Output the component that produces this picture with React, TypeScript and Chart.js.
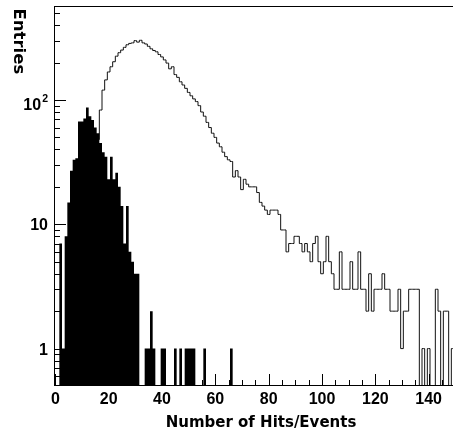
import React, { useEffect, useRef } from "react";
import { Chart, registerables } from "chart.js";

Chart.register(...registerables);

// Bin contents, one value per unit bin (bins centred on 0,1,2,...,149)
const allEventsCounts = [
  0, 0, 0, 0, 0, 0, 1, 2, 3, 5,
  8, 12, 17, 24, 31, 38, 48, 83, 120, 145,
  168, 185, 203, 225, 240, 252, 265, 278, 285, 288,
  300, 292, 302, 288, 282, 270, 258, 250, 244, 232,
  222, 210, 198, 178, 185, 160, 152, 140, 132, 124,
  115, 108, 102, 97, 90, 80, 74, 66, 60, 54,
  50, 45, 42, 38, 35, 33, 32, 24, 27, 24,
  19, 23, 21, 20, 20, 20, 18, 15, 14, 13,
  12, 13, 13, 13, 12, 9, 9, 6, 7, 7,
  8, 8, 7, 6, 7, 6, 5, 7, 8, 5,
  4, 5, 8, 5, 4, 3, 3, 6, 3, 3,
  3, 5, 3, 3, 6, 3, 3, 2, 4, 2,
  3, 3, 3, 4, 3, 3, 2, 2, 2, 3,
  1, 2, 2, 3, 3, 3, 3, 0, 1, 0,
  1, 0, 0, 3, 2, 0, 2, 2, 0, 1,
];

const selectedCounts = [
  0, 0, 7, 1, 8, 15, 27, 33, 34, 67,
  67, 71, 87, 74, 69, 60, 54, 45, 38, 35,
  23, 35, 23, 26, 20, 14, 7, 14, 6, 5,
  4, 4, 0, 0, 1, 1, 2, 1, 0, 0,
  1, 1, 0, 0, 0, 1, 0, 1, 0, 1,
  1, 1, 1, 0, 0, 0, 1, 0, 0, 0,
  0, 0, 0, 0, 0, 0, 1, 0, 0, 0,
  0, 0, 0, 0, 0, 0, 0, 0, 0, 0,
  0, 0, 0, 0, 0, 0, 0, 0, 0, 0,
  0, 0, 0, 0, 0, 0, 0, 0, 0, 0,
  0, 0, 0, 0, 0, 0, 0, 0, 0, 0,
  0, 0, 0, 0, 0, 0, 0, 0, 0, 0,
  0, 0, 0, 0, 0, 0, 0, 0, 0, 0,
  0, 0, 0, 0, 0, 0, 0, 0, 0, 0,
  0, 0, 0, 0, 0, 0, 0, 0, 0, 0,
];

const xMajorTicks = [0, 20, 40, 60, 80, 100, 120, 140];
const xMajorLabels = ["0", "20", "40", "60", "80", "100", "120", "140"];
const xMinorTicks = [5, 10, 15, 25, 30, 35, 45, 50, 55, 65, 70, 75, 85, 90, 95, 105, 110, 115, 125, 130, 135, 145];
const yMajorTicks = [1, 10, 100];
const yMajorLabels = ["1", "10", "10^2"];
const yMinorTicks = [0.6, 0.7, 0.8, 0.9, 2, 3, 4, 5, 6, 7, 8, 9, 20, 30, 40, 50, 60, 70, 80, 90, 200, 300, 400, 500];
const xTitle = "Number of Hits/Events";
const yTitle = "Entries";

const X_MIN = -0.5;
const X_MAX = 149.5;
const Y_MIN = 0.5;
const Y_MAX = 570;
const EMPTY = 0.1; // empty bins drawn below the axis floor

function toSteps(counts: number[]) {
  const pts = counts.map((v, i) => ({ x: i, y: v > 0 ? v : EMPTY }));
  const first = pts[0];
  const last = pts[pts.length - 1];
  return [{ x: X_MIN, y: first.y }, ...pts, { x: X_MAX, y: last.y }];
}

const rootAxesPlugin = {
  id: "rootAxes",
  afterDatasetsDraw(chart: any) {
    const { ctx, chartArea: a, scales } = chart;
    const xs = scales.x;
    const ys = scales.y;
    ctx.save();
    ctx.strokeStyle = "#000";
    ctx.lineWidth = 1;
    ctx.beginPath();
    // frame (left, bottom, top)
    ctx.moveTo(a.left + 0.5, a.top);
    ctx.lineTo(a.left + 0.5, a.bottom);
    ctx.moveTo(a.left, a.bottom - 0.5);
    ctx.lineTo(a.right, a.bottom - 0.5);
    ctx.moveTo(a.left, a.top + 0.5);
    ctx.lineTo(a.right, a.top + 0.5);
    // x ticks
    for (const v of xMajorTicks) {
      const px = Math.round(xs.getPixelForValue(v)) + 0.5;
      ctx.moveTo(px, a.bottom);
      ctx.lineTo(px, a.bottom - 12);
    }
    for (const v of xMinorTicks) {
      const px = Math.round(xs.getPixelForValue(v)) + 0.5;
      ctx.moveTo(px, a.bottom);
      ctx.lineTo(px, a.bottom - 6);
    }
    // y ticks
    for (const v of yMajorTicks) {
      const py = Math.round(ys.getPixelForValue(v)) + 0.5;
      ctx.moveTo(a.left, py);
      ctx.lineTo(a.left + 12, py);
    }
    for (const v of yMinorTicks) {
      const py = Math.round(ys.getPixelForValue(v)) + 0.5;
      ctx.moveTo(a.left, py);
      ctx.lineTo(a.left + 6, py);
    }
    ctx.stroke();

    // x labels
    ctx.fillStyle = "#000";
    ctx.font = "bold 16px 'Liberation Sans', Arial, sans-serif";
    ctx.textAlign = "center";
    ctx.textBaseline = "alphabetic";
    xMajorTicks.forEach((v, i) => {
      ctx.fillText(xMajorLabels[i], xs.getPixelForValue(v), a.bottom + 17.5);
    });

    // y labels
    yMajorTicks.forEach((v, i) => {
      const py = ys.getPixelForValue(v);
      const lab = yMajorLabels[i];
      const labelRight = a.left - 6;
      if (lab.includes("^")) {
        const [base, exp] = lab.split("^");
        ctx.font = "bold 10.5px 'Liberation Sans', Arial, sans-serif";
        ctx.textAlign = "right";
        const expW = ctx.measureText(exp).width;
        ctx.fillText(exp, labelRight, py + 2.5);
        ctx.font = "bold 16px 'Liberation Sans', Arial, sans-serif";
        ctx.fillText(base, labelRight - expW - 1, py + 10);
      } else {
        ctx.font = "bold 16px 'Liberation Sans', Arial, sans-serif";
        ctx.textAlign = "right";
        ctx.fillText(lab, labelRight, py + 6);
      }
    });

    // x title
    ctx.font = "bold 15px 'DejaVu Sans', sans-serif";
    ctx.textAlign = "center";
    ctx.fillText(xTitle, 261, a.bottom + 40.7);

    // y title (reads top to bottom)
    ctx.save();
    ctx.translate(13.5, a.top + 2.5);
    ctx.rotate(Math.PI / 2);
    ctx.font = "bold 16.5px 'DejaVu Sans', sans-serif";
    ctx.textAlign = "left";
    ctx.textBaseline = "alphabetic";
    ctx.fillText(yTitle, 0, 0);
    ctx.restore();

    ctx.restore();
  },
};

export default function App() {
  const canvasRef = useRef<HTMLCanvasElement | null>(null);

  useEffect(() => {
    const canvas = canvasRef.current;
    if (!canvas) return;
    const chart = new Chart(canvas, {
      type: "line",
      data: {
        datasets: [
          {
            label: "selected",
            data: toSteps(selectedCounts),
            stepped: "middle",
            borderColor: "rgba(0,0,0,0)",
            borderWidth: 0,
            backgroundColor: "#000",
            fill: "start",
            pointRadius: 0,
          },
          {
            label: "all",
            data: toSteps(allEventsCounts),
            stepped: "middle",
            borderColor: "#111",
            borderWidth: 1,
            backgroundColor: "rgba(0,0,0,0)",
            fill: false,
            pointRadius: 0,
          },
        ],
      },
      options: {
        animation: false,
        responsive: false,
        devicePixelRatio: 1,
        parsing: true,
        layout: { padding: { left: 54, right: 6, top: 6, bottom: 47 } },
        plugins: {
          legend: { display: false },
          tooltip: { enabled: false },
          title: { display: false },
        },
        scales: {
          x: { type: "linear", min: X_MIN, max: X_MAX, display: false },
          y: { type: "logarithmic", min: Y_MIN, max: Y_MAX, display: false },
        },
      },
      plugins: [rootAxesPlugin],
    });
    return () => chart.destroy();
  }, []);

  return (
    <div
      style={{
        position: "fixed",
        left: 0,
        top: 0,
        width: 453,
        height: 433,
        overflow: "hidden",
        background: "#fff",
      }}
    >
      <canvas ref={canvasRef} width={460} height={433} style={{ display: "block" }} />
    </div>
  );
}
